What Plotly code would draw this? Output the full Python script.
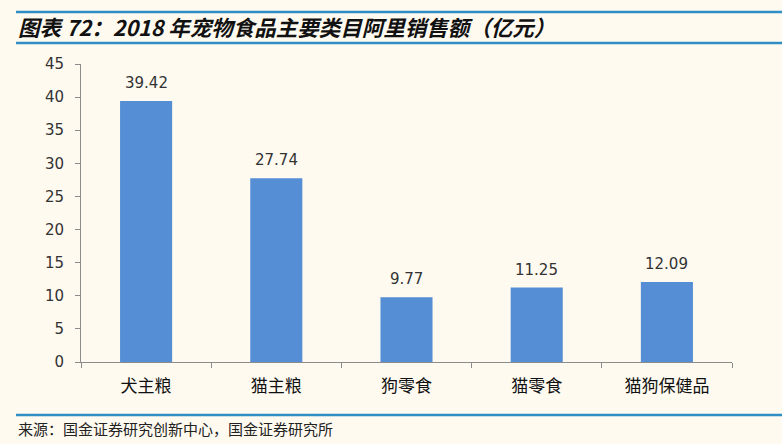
import plotly.graph_objects as go

categories = ["犬主粮", "猫主粮", "狗零食", "猫零食", "猫狗保健品"]
values = [39.42, 27.74, 9.77, 11.25, 12.09]
value_labels = ["39.42", "27.74", "9.77", "11.25", "12.09"]
y_ticks = [0, 5, 10, 15, 20, 25, 30, 35, 40, 45]

title_text = "图表 72：2018 年宠物食品主要类目阿里销售额（亿元）"
source_text = "来源：国金证券研究创新中心，国金证券研究所"

bg = "#FEFAF0"
axis_color = "#8C8C8C"
cjk = "Noto Sans CJK SC"

fig = go.Figure()
fig.add_trace(go.Bar(
    x=categories, y=values,
    marker=dict(color="#558ED5", line=dict(width=0)),
    width=0.4,
    cliponaxis=False,
))
for c, v, t in zip(categories, values, value_labels):
    fig.add_annotation(x=c, y=v, text=t, showarrow=False, yanchor="bottom", yshift=7,
                       font=dict(family="DejaVu Sans", size=15, color="#333333"))

fig.update_layout(
    width=782, height=444,
    paper_bgcolor=bg, plot_bgcolor=bg,
    margin=dict(l=81, r=50, t=64, b=82),
    showlegend=False,
    bargap=0.6,
    xaxis=dict(
        showline=True, linecolor=axis_color, linewidth=1,
        ticks="outside", tickcolor=axis_color, ticklen=5,
        tickson="boundaries", ticklabelstandoff=9,
        tickfont=dict(family=cjk, size=17, color="#111111"),
        showgrid=False, zeroline=False,
    ),
    yaxis=dict(
        range=[0, 45], tickvals=y_ticks,
        showline=True, linecolor=axis_color, linewidth=1,
        ticks="outside", tickcolor=axis_color, ticklen=5,
        ticklabelstandoff=8,
        tickfont=dict(family="DejaVu Sans", size=15, color="#333333"),
        showgrid=False, zeroline=False,
    ),
    font=dict(family=cjk),
)

# header / footer decorations
for yy in [12, 43]:
    fig.add_shape(type="line", xref="paper", yref="paper",
                  x0=-65/651, x1=(782-81)/651, y0=(444-82-yy)/298, y1=(444-82-yy)/298,
                  line=dict(color="#2F8FC4", width=2.5))
fig.add_shape(type="line", xref="paper", yref="paper",
              x0=-65/651, x1=(782-81)/651, y0=(444-82-415)/298, y1=(444-82-415)/298,
              line=dict(color="#2F8FC4", width=2.5))

fig.add_annotation(text="<b><i>" + title_text + "</i></b>", xref="paper", yref="paper",
                   x=-65/651, y=(444-82-27)/298, xanchor="left", yanchor="middle",
                   showarrow=False, font=dict(family=cjk, size=21.5, color="#111111"))
fig.add_annotation(text=source_text, xref="paper", yref="paper",
                   x=-65/651, y=(444-82-428)/298, xanchor="left", yanchor="middle",
                   showarrow=False, font=dict(family=cjk, size=15, color="#222222"))

fig.write_html("out.html")
